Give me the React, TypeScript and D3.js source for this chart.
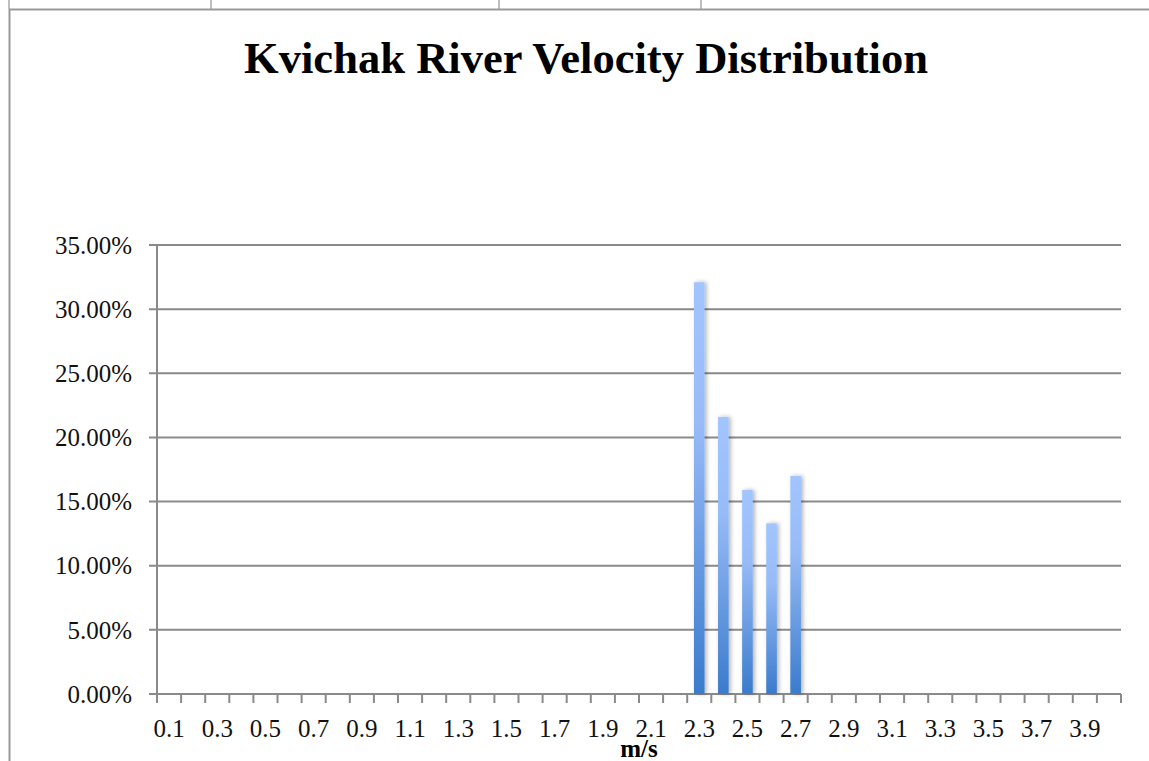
import * as d3 from "d3";

const categories = [
  "0.1", "0.2", "0.3", "0.4", "0.5", "0.6", "0.7", "0.8", "0.9", "1.0",
  "1.1", "1.2", "1.3", "1.4", "1.5", "1.6", "1.7", "1.8", "1.9", "2.0",
  "2.1", "2.2", "2.3", "2.4", "2.5", "2.6", "2.7", "2.8", "2.9", "3.0",
  "3.1", "3.2", "3.3", "3.4", "3.5", "3.6", "3.7", "3.8", "3.9", "4.0",
];
const shares = [
  0, 0, 0, 0, 0, 0, 0, 0, 0, 0,
  0, 0, 0, 0, 0, 0, 0, 0, 0, 0,
  0, 0, 0.321, 0.216, 0.159, 0.133, 0.17, 0, 0, 0,
  0, 0, 0, 0, 0, 0, 0, 0, 0, 0,
];
const yTicks = [0, 0.05, 0.1, 0.15, 0.2, 0.25, 0.3, 0.35];
const tableCols = [9, 211, 499, 701];

const width = 1149;
const height = 761;
const marginLeft = 157;
const marginRight = 28;
const plotTop = 245;
const plotBottom = 694;
const axisColor = "#8a8a8a";
const font = "'Liberation Serif', 'Times New Roman', serif";

export default function App() {
  const x = d3
    .scaleBand<string>()
    .domain(categories)
    .range([marginLeft, width - marginRight])
    .paddingInner(0.56)
    .paddingOuter(0.28);
  const y = d3.scaleLinear().domain([0, 0.35]).range([plotBottom, plotTop]);
  const fmt = d3.format(".2%");
  const gap = (x.step() - x.bandwidth()) / 2;
  const edges = categories.map((c) => (x(c) ?? 0) - gap);
  edges.push(width - marginRight);

  return (
    <svg
      width={width}
      height={height}
      style={{ position: "absolute", left: 0, top: 0, background: "#fff" }}
    >
      <defs>
        <linearGradient id="barFill" x1="0" y1="0" x2="0" y2="1">
          <stop offset="0" stopColor="#a2c5ff" />
          <stop offset="0.35" stopColor="#96bbf7" />
          <stop offset="1" stopColor="#3a7bcc" />
        </linearGradient>
        <filter id="shadow" x="-50%" y="-10%" width="200%" height="120%">
          <feDropShadow dx="2" dy="0" stdDeviation="2" floodColor="#000" floodOpacity="0.3" />
        </filter>
      </defs>

      {/* table row cut off above the chart */}
      {tableCols.map((cx) => (
        <line key={cx} x1={cx} x2={cx} y1={0} y2={9} stroke="#aaa" strokeWidth={1.5} />
      ))}
      <line x1={9} x2={width} y1={9.5} y2={9.5} stroke="#999" strokeWidth={2} />
      <line x1={9.5} x2={9.5} y1={9} y2={height} stroke="#999" strokeWidth={2} />

      <text
        x={586}
        y={73}
        textAnchor="middle"
        fontFamily={font}
        fontWeight="bold"
        fontSize={44}
        textLength={684}
        lengthAdjust="spacingAndGlyphs"
      >
        Kvichak River Velocity Distribution
      </text>

      {/* gridlines + y axis */}
      <g>
        {yTicks.map((t) => (
          <g key={t}>
            <line
              x1={marginLeft - 8}
              x2={width - marginRight}
              y1={y(t)}
              y2={y(t)}
              stroke={axisColor}
              strokeWidth={2}
            />
            <text
              x={132}
              y={y(t)}
              dy="0.35em"
              textAnchor="end"
              fontFamily={font}
              fontSize={25}
              fill="#111"
            >
              {fmt(t)}
            </text>
          </g>
        ))}
        <line x1={marginLeft} x2={marginLeft} y1={plotTop} y2={plotBottom} stroke={axisColor} strokeWidth={2} />
      </g>

      {/* bars */}
      <g filter="url(#shadow)">
        {categories.map((c, i) =>
          shares[i] > 0 ? (
            <rect
              key={c}
              x={x(c)}
              y={y(shares[i])}
              width={x.bandwidth()}
              height={y(0) - y(shares[i])}
              fill="url(#barFill)"
            />
          ) : null
        )}
      </g>

      {/* x axis */}
      <g>
        {edges.map((e, i) => (
          <line key={i} x1={e} x2={e} y1={plotBottom} y2={plotBottom + 9} stroke={axisColor} strokeWidth={2} />
        ))}
        {categories.map((c, i) =>
          i % 2 === 0 ? (
            <text
              key={c}
              x={(x(c) ?? 0) + x.bandwidth() / 2}
              y={737}
              textAnchor="middle"
              fontFamily={font}
              fontSize={25}
              fill="#111"
            >
              {c}
            </text>
          ) : null
        )}
        <text
          x={(marginLeft + width - marginRight) / 2}
          y={757}
          textAnchor="middle"
          fontFamily={font}
          fontWeight="bold"
          fontSize={25}
        >
          m/s
        </text>
      </g>
    </svg>
  );
}
